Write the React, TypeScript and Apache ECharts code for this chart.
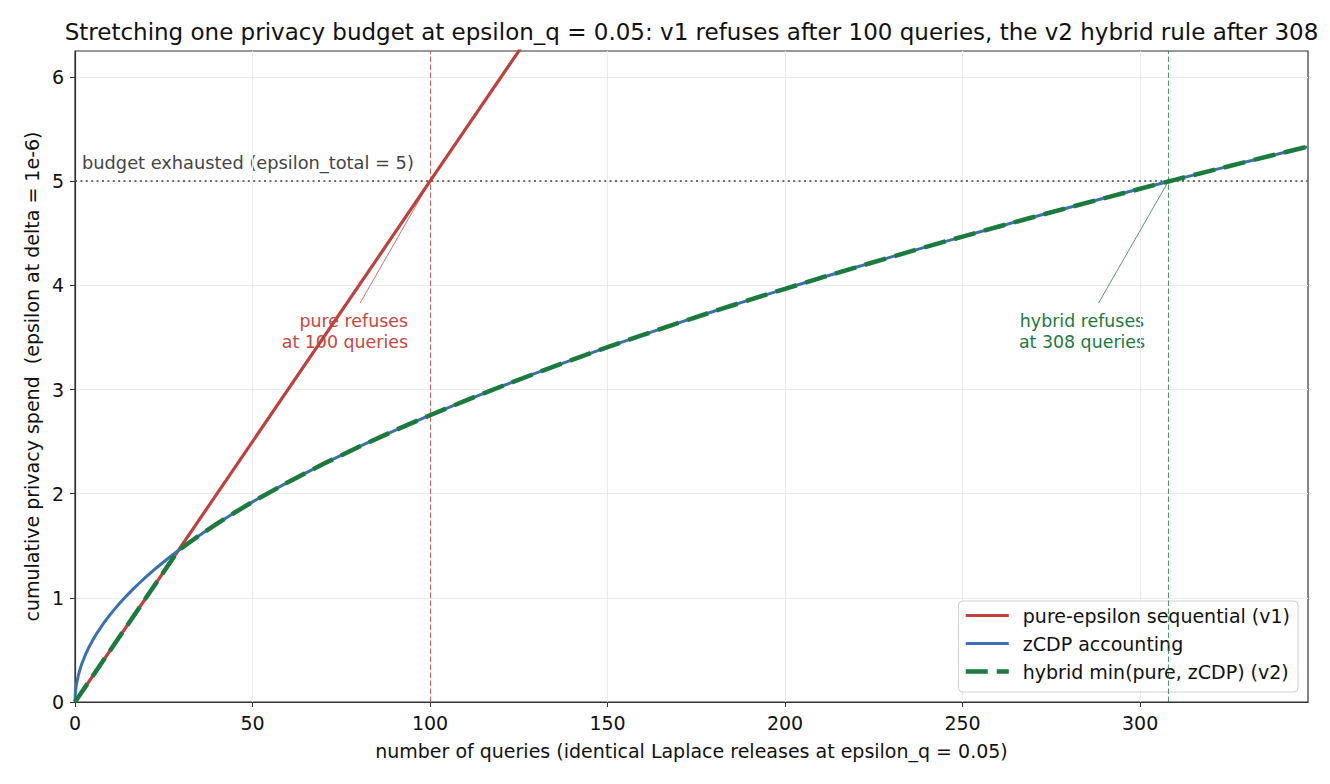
import React, { useEffect, useRef } from "react";
import * as echarts from "echarts";

// Number of identical Laplace releases (epsilon_q = 0.05) at which spend is sampled
const queries = [
  0, 0.1, 0.25, 0.5, 1, 1.5, 2, 3, 4, 5, 6, 8, 10, 12, 14, 16, 18, 20, 23, 26, 29,
  32, 35, 40, 45, 50, 60, 70, 80, 90, 100, 110, 120, 130, 140, 150, 160, 170, 180,
  190, 200, 210, 220, 230, 240, 250, 260, 270, 280, 290, 300, 308, 310, 320, 330,
  340, 347,
];

// zCDP accounting, converted to epsilon at delta = 1e-6
const zcdpSpend = [
  0, 0.0832, 0.1317, 0.1865, 0.2641, 0.3238, 0.3742, 0.459, 0.5307, 0.594, 0.6513,
  0.7534, 0.8436, 0.9255, 1.0009, 1.0713, 1.1376, 1.2004, 1.2892, 1.3727, 1.4516,
  1.5268, 1.5987, 1.7123, 1.8193, 1.921, 2.1108, 2.2865, 2.4508, 2.6059, 2.7533,
  2.894, 3.0291, 3.1592, 3.2848, 3.4064, 3.5245, 3.6393, 3.7512, 3.8603, 3.9669,
  4.0712, 4.1733, 4.2734, 4.3717, 4.4681, 4.5629, 4.6562, 4.7479, 4.8382, 4.9273,
  4.9976, 5.015, 5.1016, 5.187, 5.2713, 5.3296,
];

// Hybrid v2 rule: the smaller of pure and zCDP at each query count
const hybridSpend = [
  0, 0.005, 0.0125, 0.025, 0.05, 0.075, 0.1, 0.15, 0.2, 0.25, 0.3, 0.4, 0.5, 0.6,
  0.7, 0.8, 0.9, 1.0, 1.15, 1.3, 1.45,
  1.5268, 1.5987, 1.7123, 1.8193, 1.921, 2.1108, 2.2865, 2.4508, 2.6059, 2.7533,
  2.894, 3.0291, 3.1592, 3.2848, 3.4064, 3.5245, 3.6393, 3.7512, 3.8603, 3.9669,
  4.0712, 4.1733, 4.2734, 4.3717, 4.4681, 4.5629, 4.6562, 4.7479, 4.8382, 4.9273,
  4.9976, 5.015, 5.1016, 5.187, 5.2713, 5.3296,
];

// Pure-epsilon sequential composition (v1) is a straight line
const pureQueries = [0, 100, 130];
const pureSpend = [0, 5, 6.5];

const budgetTotal = 5;
const pureRefusal = 100;
const hybridRefusal = 308;

const xTicks = [0, 50, 100, 150, 200, 250, 300];
const yTicks = [0, 1, 2, 3, 4, 5, 6];

const RED = "#c0413b";
const BLUE = "#3b6fb1";
const GREEN = "#1b7a3e";
const FONT = "'DejaVu Sans', sans-serif";
const FS = 19;
const FS_NOTE = 17.4;

const zip = (xs: number[], ys: number[]) => xs.map((x, i) => [x, ys[i]]);

export default function App() {
  const ref = useRef<HTMLDivElement>(null);

  useEffect(() => {
    document.body.style.margin = "0";
    if (!ref.current) return;
    const chart = echarts.init(ref.current, undefined, { renderer: "svg" });

    const noMark = { symbol: ["none", "none"], silent: true, label: { show: false } };
    const guide = (color: string) => ({ color, width: 1.1, type: [5.5, 2.5], opacity: 0.75 });
    const pointer = (color: string) => ({ color, width: 1, type: "solid", opacity: 0.75 });

    const pureStyle = { color: RED, width: 3.2 };
    const zcdpStyle = { color: BLUE, width: 3 };
    const hybridStyle = { color: GREEN, width: 4.5, type: [22, 9] };

    chart.setOption({
      animation: false,
      backgroundColor: "#ffffff",
      textStyle: { fontFamily: FONT },
      grid: {
        left: 75,
        top: 51,
        right: 22,
        bottom: 82,
        show: true,
        borderColor: "#333",
        borderWidth: 1.2,
        backgroundColor: "transparent",
      },
      xAxis: {
        type: "value",
        min: 0,
        max: 347.3,
        interval: 50,
        name: "number of queries (identical Laplace releases at epsilon_q = 0.05)",
        nameLocation: "middle",
        nameGap: 39,
        nameTextStyle: { fontSize: FS, color: "#111", fontFamily: FONT },
        axisLine: { onZero: false, lineStyle: { color: "#333", width: 1.2 } },
        axisTick: { show: true, length: 5, lineStyle: { color: "#333" }, customValues: xTicks },
        axisLabel: { fontSize: FS, color: "#111", margin: 11, customValues: xTicks, fontFamily: FONT },
        splitLine: { show: true, lineStyle: { color: "#ebebeb", width: 1 } },
      },
      yAxis: {
        type: "value",
        min: 0,
        max: 6.25,
        interval: 1,
        name: "cumulative privacy spend  (epsilon at delta = 1e-6)",
        nameLocation: "middle",
        nameGap: 32,
        nameRotate: 90,
        nameTextStyle: { fontSize: FS, color: "#111", fontFamily: FONT },
        axisLine: { show: true, onZero: false, lineStyle: { color: "#333", width: 1.2 } },
        axisTick: { show: true, length: 5, lineStyle: { color: "#333" }, customValues: yTicks },
        axisLabel: { fontSize: FS, color: "#111", margin: 11, customValues: yTicks, fontFamily: FONT },
        splitLine: { show: true, lineStyle: { color: "#ebebeb", width: 1 } },
      },
      legend: {
        orient: "vertical",
        right: 32,
        bottom: 92,
        padding: [5, 8, 11, 5],
        itemWidth: 43,
        itemHeight: 14,
        itemGap: 9,
        itemStyle: { opacity: 0 },
        backgroundColor: "rgba(255,255,255,0.85)",
        borderColor: "#d0d0d0",
        borderWidth: 1,
        borderRadius: 4,
        textStyle: { fontSize: FS, color: "#111", fontFamily: FONT, padding: [0, 0, 0, 9] },
        data: [
          { name: "pure-epsilon sequential (v1)", lineStyle: pureStyle },
          { name: "zCDP accounting", lineStyle: zcdpStyle },
          { name: "hybrid min(pure, zCDP) (v2)", lineStyle: hybridStyle },
        ],
      },
      series: [
        {
          name: "pure-epsilon sequential (v1)",
          type: "line",
          data: zip(pureQueries, pureSpend),
          symbol: "none",
          clip: true,
          z: 3,
          lineStyle: pureStyle,
          itemStyle: { color: RED },
          markLine: {
            ...noMark,
            data: [
              [
                { coord: [pureRefusal, 0], lineStyle: guide(RED) },
                { coord: [pureRefusal, 6.25] },
              ],
              [
                { coord: [80.3, 3.83], lineStyle: pointer(RED) },
                { coord: [pureRefusal, budgetTotal] },
              ],
            ],
          },
        },
        {
          name: "zCDP accounting",
          type: "line",
          data: zip(queries, zcdpSpend),
          symbol: "none",
          z: 4,
          lineStyle: zcdpStyle,
          itemStyle: { color: BLUE },
          markLine: {
            ...noMark,
            data: [[{ coord: [0, budgetTotal] }, { coord: [347.3, budgetTotal] }]],
            lineStyle: { color: "#444", width: 1.7, type: [2, 3.4] },
          },
        },
        {
          name: "hybrid min(pure, zCDP) (v2)",
          type: "line",
          data: zip(queries, hybridSpend),
          symbol: "none",
          z: 5,
          lineStyle: hybridStyle,
          itemStyle: { color: GREEN },
          markLine: {
            ...noMark,
            data: [
              [
                { coord: [hybridRefusal, 0], lineStyle: guide(GREEN) },
                { coord: [hybridRefusal, 6.25] },
              ],
              [
                { coord: [288.3, 3.83], lineStyle: pointer(GREEN) },
                { coord: [hybridRefusal, budgetTotal] },
              ],
            ],
          },
        },
      ],
      graphic: [
        {
          type: "text",
          x: 691.5,
          y: 32,
          style: {
            text: "Stretching one privacy budget at epsilon_q = 0.05: v1 refuses after 100 queries, the v2 hybrid rule after 308",
            fontSize: 23,
            fontFamily: FONT,
            fill: "#111",
            textAlign: "center",
            textVerticalAlign: "middle",
          },
        },
        {
          type: "text",
          x: 82,
          y: 162,
          style: {
            text: "budget exhausted (epsilon_total = 5)",
            fontSize: 17.8,
            fontFamily: FONT,
            fill: "#444",
            textAlign: "left",
            textVerticalAlign: "middle",
          },
        },
        {
          type: "text",
          x: 408,
          y: 331,
          style: {
            text: "pure refuses\nat 100 queries",
            fontSize: FS_NOTE,
            lineHeight: 21,
            fontFamily: FONT,
            fill: "#c8473f",
            textAlign: "right",
            textVerticalAlign: "middle",
          },
        },
        {
          type: "text",
          x: 1082,
          y: 331,
          style: {
            text: "hybrid refuses\nat 308 queries",
            fontSize: FS_NOTE,
            lineHeight: 21,
            fontFamily: FONT,
            fill: GREEN,
            textAlign: "center",
            textVerticalAlign: "middle",
          },
        },
      ],
    });

    return () => chart.dispose();
  }, []);

  return <div ref={ref} style={{ width: 1330, height: 784 }} />;
}
